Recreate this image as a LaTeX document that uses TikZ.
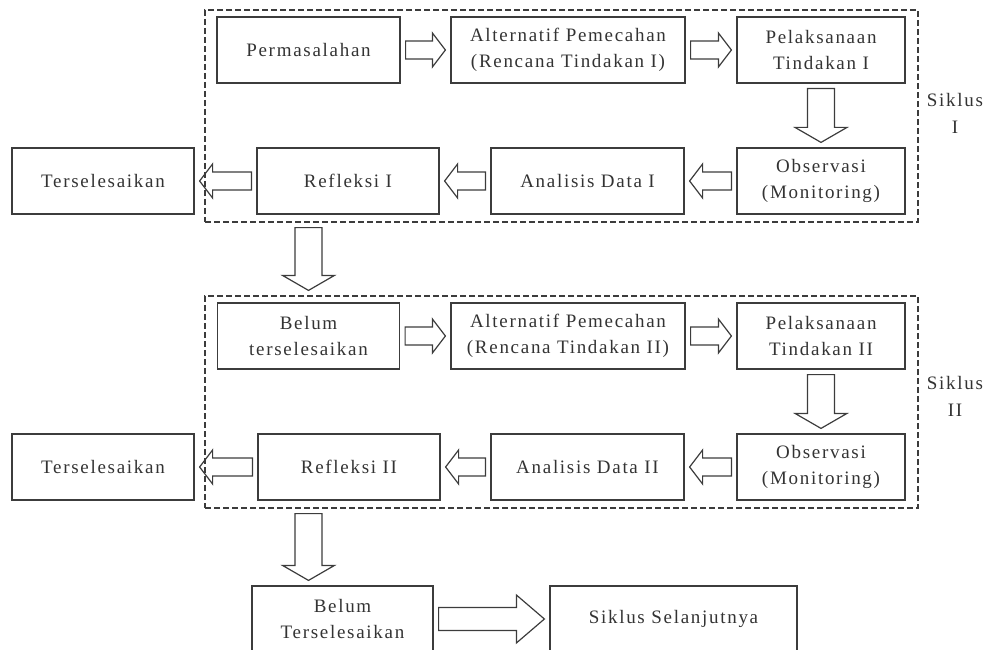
\documentclass[tikz,border=0pt]{standalone}
\usepackage{fontspec}
\setmainfont{Liberation Serif}[LetterSpace=9]
\usetikzlibrary{calc}
\definecolor{ink}{HTML}{3C3C3C}
\tikzset{
  stage/.style={draw=ink, line width=1.2pt, text=black!80, align=center,
    minimum height=66pt, inner sep=0pt, font=\fontsize{19}{26}\selectfont},
  frame/.style={draw=ink, line width=1.2pt, dash pattern=on 6pt off 3pt,
    minimum width=713pt, minimum height=212pt, inner sep=0pt},
  cyclelabel/.style={text=black!80, align=center, font=\fontsize{19}{27}\selectfont},
  fat/.style n args={3}{draw=ink, line width=1.2pt, to path={
    let \p1=($(\tikztostart)!5pt!(\tikztotarget)$),
        \p2=($(\tikztotarget)!5pt!(\tikztostart)$),
        \p3=($(\p2)!#3!(\p1)$) in
    ($(\p1)!#1!90:(\p2)$) -- ($(\p3)!#1!-90:(\p1)$) -- ($(\p3)!#2!-90:(\p1)$)
    -- (\p2) -- ($(\p3)!#2!90:(\p1)$) -- ($(\p3)!#1!90:(\p1)$)
    -- ($(\p1)!#1!-90:(\p2)$) -- cycle}},
  hflow/.style={fat={9pt}{17pt}{13pt}},
  vflow/.style={fat={13.5pt}{26pt}{15pt}},
  bigflow/.style={fat={11.5pt}{24pt}{28pt}}
}
\begin{document}
\begin{tikzpicture}[x=1pt, y=-1pt]
\useasboundingbox (0,0) rectangle (991,650);
\node[frame] (cyc1) at (561.5,116) {};
\node[frame] (cyc2) at (561.5,402) {};
\node[cyclelabel] (lab1) at (955,113) {Siklus\\I};
\node[cyclelabel] (lab2) at (955,396) {Siklus\\II};
\node[stage, minimum width=183pt] (perm) at (308.5,50) {Permasalahan};
\node[stage, minimum width=234pt] (alt1) at (568,50) {Alternatif Pemecahan\\(Rencana Tindakan I)};
\node[stage, minimum width=168pt] (pel1) at (821,50) {Pelaksanaan\\Tindakan I};
\node[stage, minimum width=182pt] (ter1) at (103,181) {Terselesaikan};
\node[stage, minimum width=182pt] (ref1) at (348,181) {Refleksi I};
\node[stage, minimum width=193pt] (ana1) at (587.5,181) {Analisis Data I};
\node[stage, minimum width=168pt] (obs1) at (821,181) {Observasi\\(Monitoring)};
\node[stage, minimum width=182pt] (bel1) at (308.5,336) {Belum\\terselesaikan};
\node[stage, minimum width=234pt] (alt2) at (568,336) {Alternatif Pemecahan\\(Rencana Tindakan II)};
\node[stage, minimum width=168pt] (pel2) at (821,336) {Pelaksanaan\\Tindakan II};
\node[stage, minimum width=182pt] (ter2) at (103,467) {Terselesaikan};
\node[stage, minimum width=182pt] (ref2) at (349,467) {Refleksi II};
\node[stage, minimum width=193pt] (ana2) at (587.5,467) {Analisis Data II};
\node[stage, minimum width=168pt] (obs2) at (821,467) {Observasi\\(Monitoring)};
\node[stage, minimum width=181pt] (bel2) at (342.5,619) {Belum\\Terselesaikan};
\node[stage, minimum width=247pt] (sik) at (673.5,619) {Siklus Selanjutnya};
\draw[hflow] (perm.east) to (alt1.west);
\draw[hflow] (alt1.east) to (pel1.west);
\draw[vflow] (pel1.south) to (obs1.north);
\draw[hflow] (obs1.west) to (ana1.east);
\draw[hflow] (ana1.west) to (ref1.east);
\draw[hflow] (ref1.west) to (ter1.east);
\draw[vflow] (perm |- cyc1.south) to (bel1 |- cyc2.north);
\draw[hflow] (bel1.east) to (alt2.west);
\draw[hflow] (alt2.east) to (pel2.west);
\draw[vflow] (pel2.south) to (obs2.north);
\draw[hflow] (obs2.west) to (ana2.east);
\draw[hflow] (ana2.west) to (ref2.east);
\draw[hflow] (ref2.west) to (ter2.east);
\draw[vflow] (bel1 |- cyc2.south) to (bel1 |- bel2.north);
\draw[bigflow] (bel2.east) to (sik.west);
\end{tikzpicture}
\end{document}
